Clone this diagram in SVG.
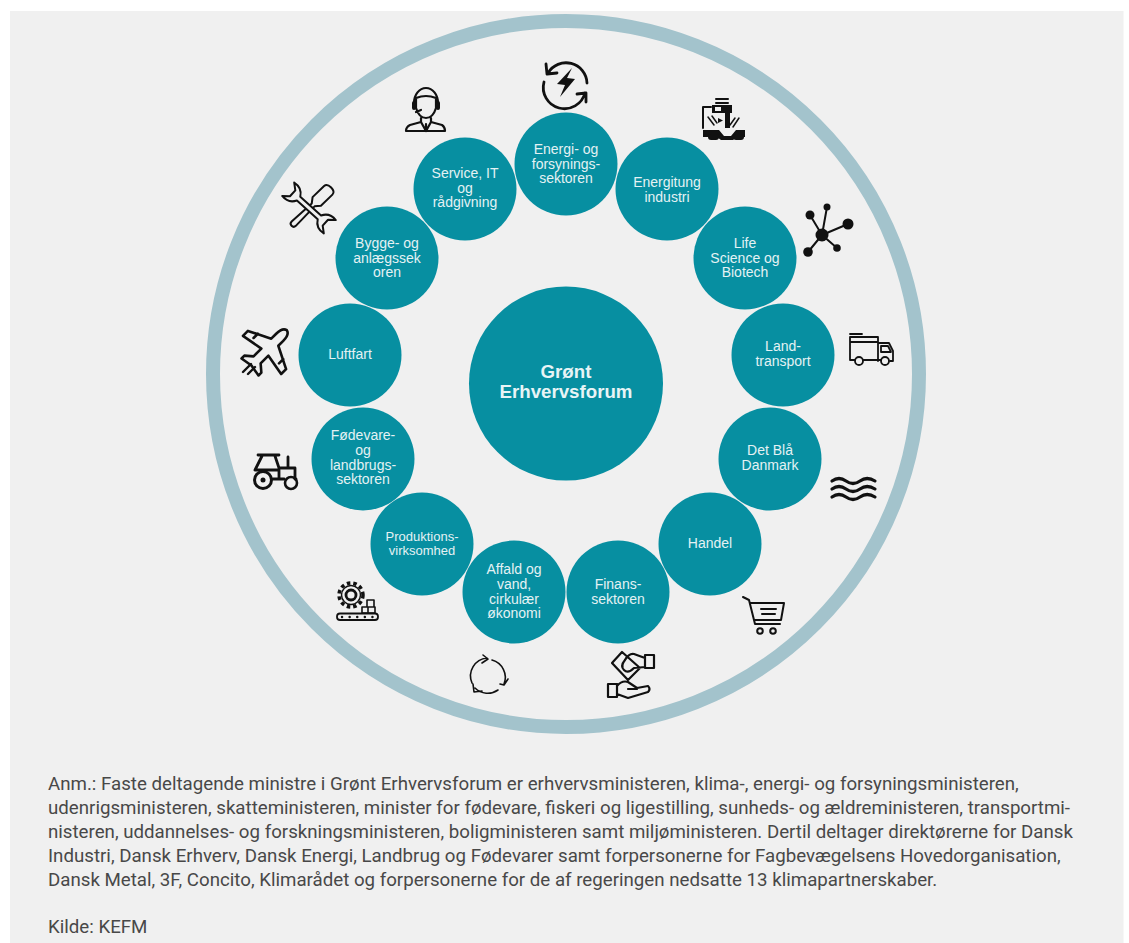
<svg xmlns="http://www.w3.org/2000/svg" width="1129" height="943" viewBox="0 0 1129 943" stroke-width="2">
<style>
.n{fill:#078fa1}
.t{font-family:"Liberation Sans",Arial,sans-serif;font-size:14px;fill:#e4f2f4;text-anchor:middle}
.c{font-family:"Liberation Sans",Arial,sans-serif;font-size:18.700px;font-weight:bold;fill:#e8f4f6;text-anchor:middle}
.f{font-family:Roboto,sans-serif;font-size:18.700px;fill:#484848}
.i{fill:none;stroke:#111;stroke-linecap:round;stroke-linejoin:round}
.w{fill:#f0f0f0;stroke:#111;stroke-linecap:round;stroke-linejoin:round}
.b{fill:#111;stroke:none}
</style>
<rect width="1129" height="943" fill="#fff"/>
<rect x="10" y="11" width="1113.500" height="932" fill="#f0f0f0"/>
<circle id="ring" cx="566" cy="374" r="353" fill="none" stroke="#a3c3cc" stroke-width="14"/>
<g id="connectors"></g>
<g id="center"><circle class="n" cx="566" cy="383.500" r="97"/><text class="c"><tspan x="566" y="378">Grønt</tspan><tspan x="566" y="398">Erhvervsforum</tspan></text></g>

<g id="energi"><circle class="n" cx="566" cy="164" r="51.500"/><text class="t"><tspan x="566" y="154">Energi- og</tspan><tspan x="566" y="169">forsynings-</tspan><tspan x="566" y="183">sektoren</tspan></text>
<path class="i" stroke-width="2.800" d="M548 73A21 21 0 0 1 587 83M544 82A21 21 0 0 0 585 93M546 64L547 74L557 73M577 94L586 93L586 102"/><path class="b" d="M572 68L557 84L565 85L560 97L575 79L567 78Z"/></g>

<g id="energiteknik"><circle class="n" cx="667" cy="189" r="51.500"/><text class="t"><tspan x="667" y="187">Energitung</tspan><tspan x="667" y="202">industri</tspan></text>
<path class="i" d="M703 128V107H711M716 99H728M716 103H728"/><rect class="b" x="712" y="105" width="20" height="8"/><rect x="715" y="107" width="6" height="4" fill="#f0f0f0"/><rect class="b" x="725" y="111" width="5" height="17"/><path class="b" d="M718 118L723 120.500L718 123Z"/><path class="i" stroke-width="1.500" d="M708 117L714 125M712 116L717 123M739 118L733 127M735 118L730 125"/><path class="b" d="M703 130H719L724 136H731L736 130H745V137H737L733 140H721L717 137H703Z"/><rect class="b" x="708" y="134" width="11" height="6" rx="3"/><rect class="b" x="733" y="134" width="11" height="6" rx="3"/></g>

<g id="lifescience"><circle class="n" cx="745" cy="258" r="51.500"/><text class="t"><tspan x="745" y="248">Life</tspan><tspan x="745" y="263">Science og</tspan><tspan x="745" y="277">Biotech</tspan></text>
<path class="i" d="M822 235L827 207M822 235L810 215M822 235L848 224M822 235L837 248M822 235L808 252"/><circle class="b" cx="822" cy="235" r="6.500"/><circle class="b" cx="827" cy="207" r="3.500"/><circle class="b" cx="810" cy="215" r="4.500"/><circle class="b" cx="848" cy="224" r="5.500"/><circle class="b" cx="837" cy="248" r="3.800"/><circle class="b" cx="808" cy="252" r="4.800"/></g>

<g id="landtransport"><circle class="n" cx="783" cy="355" r="51.500"/><text class="t"><tspan x="783" y="351">Land-</tspan><tspan x="783" y="366">transport</tspan></text>
<path class="i" stroke-width="1.800" d="M850 337H878V361M850 337V360H855M863 360H881M878 343H889L893 351V361H890M881 346H888L891 352H881ZM850 342H878M850 334H862"/><circle class="i" stroke-width="1.800" cx="859" cy="361" r="4"/><circle class="i" stroke-width="1.800" cx="885" cy="361" r="4"/></g>

<g id="detblaa"><circle class="n" cx="770" cy="459" r="51.500"/><text class="t"><tspan x="770" y="455">Det Blå</tspan><tspan x="770" y="470">Danmark</tspan></text>
<path class="i" stroke-width="3.200" d="M832 481Q839 476 846 481T860 481T875 481M832 489Q839 484 846 489T860 489T875 489M832 497Q839 492 846 497T860 497T875 497"/></g>

<g id="handel"><circle class="n" cx="710" cy="544" r="51.500"/><text class="t"><tspan x="710" y="548">Handel</tspan></text>
<path class="i" d="M743 597L749 600L755 624H780M751 603L784 603L781 620H755M761 609H776M762 614H775"/><circle class="i" cx="760" cy="631" r="2.800"/><circle class="i" cx="773" cy="631" r="2.800"/></g>

<g id="finans"><circle class="n" cx="618" cy="592" r="51.500"/><text class="t"><tspan x="618" y="589">Finans-</tspan><tspan x="618" y="604">sektoren</tspan></text>
<path class="i" stroke-width="2.200" d="M612 663L622 652L640 668L628 680ZM645 658L634 654Q629 653 625 660Q620 666 624 670Q628 674 634 668L645 667M645 655H654V668H645ZM608 684H617V697H608ZM617 686Q622 680 628 682L637 688L648 686Q651 689 648 692L628 698L617 694M628 689H637"/></g>

<g id="affald"><circle class="n" cx="514" cy="592" r="51.500"/><text class="t"><tspan x="514" y="574">Affald og</tspan><tspan x="514" y="589">vand,</tspan><tspan x="514" y="604">cirkulær</tspan><tspan x="514" y="618">økonomi</tspan></text>
<path class="i" stroke-width="1.600" d="M472 683A18 18 0 0 1 487 658M492 660A18 18 0 0 1 504 684M498 690A18 18 0 0 1 475 688M483 655L488 659L482 663M500 684L504 685L508 679M473 684L474 692L482 691"/></g>

<g id="produktion"><circle class="n" cx="422" cy="544" r="51.500"/><text class="t" style="font-size:13px"><tspan x="422" y="541">Produktions-</tspan><tspan x="422" y="555">virksomhed</tspan></text>
<circle class="i" stroke-width="1.500" cx="351" cy="595" r="9.500"/><circle cx="351" cy="595" r="12" fill="none" stroke="#111" stroke-width="3.500" stroke-dasharray="3.500 3"/><circle class="i" stroke-width="2.800" cx="351" cy="595" r="5"/>
<path class="w" stroke-width="1.600" d="M367 607V600H374V607ZM362 613V607H368V613ZM368 613V607H375V613Z"/><rect class="w" stroke-width="1.800" x="337" y="613.500" width="41" height="6.500" rx="3"/><path class="i" stroke-width="2.400" stroke-dasharray="0.100 7.500" d="M342 617H374"/></g>

<g id="foedevare"><circle class="n" cx="363" cy="459" r="51.500"/><text class="t"><tspan x="363" y="440">Fødevare-</tspan><tspan x="363" y="455">og</tspan><tspan x="363" y="470">landbrugs-</tspan><tspan x="363" y="484">sektoren</tspan></text>
<path class="i" stroke-width="2.800" d="M258 455H279M262 456L255 470M275 456L279 468H295V479H296M255 470H279V479M288 457V468M273 479H284"/><circle class="i" stroke-width="3" cx="263" cy="480" r="8.500"/><circle class="b" cx="263" cy="480" r="2.500"/><circle class="i" stroke-width="2.600" cx="291" cy="483" r="6"/></g>

<g id="luftfart"><circle class="n" cx="350" cy="355" r="51.500"/><text class="t"><tspan x="350" y="359">Luftfart</tspan></text>
<g transform="translate(267 350) rotate(-45)"><path class="i" stroke-width="2.600" d="M28 0Q27 -5 18 -5H11L0 -27H-7L-3 -5H-14L-20 -12H-24L-22 0L-24 12H-20L-14 5H-3L-7 27H0L11 5H18Q27 5 28 0ZM-1 -18H5M-1 18H5"/></g>
<path class="i" stroke-width="2.400" d="M243 372L251 364M248 374L255 367"/></g>

<g id="bygge"><circle class="n" cx="387" cy="258" r="51.500"/><text class="t"><tspan x="387" y="248">Bygge- og</tspan><tspan x="387" y="263">anlægssek</tspan><tspan x="387" y="277">oren</tspan></text>
<g transform="translate(311 207) rotate(-44)"><path class="w" d="M-27 0Q-27 -3 -24 -3L3 -2L8 -6H24Q28 -6 28 0Q28 6 24 6H8L3 2L-24 3Q-27 3 -27 0Z"/></g>
<g transform="translate(309 208) rotate(42)"><path class="w" d="M-14 -2.500H14C17 -8 22 -10 28 -9L22 -4V4L28 9C22 10 17 8 14 2.500H-14C-17 8 -22 10 -28 9L-22 4V-4L-28 -9C-22 -10 -17 -8 -14 -2.500Z"/></g></g>

<g id="service"><circle class="n" cx="465" cy="189" r="51.500"/><text class="t"><tspan x="465" y="178">Service, IT</tspan><tspan x="465" y="193">og</tspan><tspan x="465" y="207">rådgivning</tspan></text>
<path class="i" stroke-width="2.200" d="M414 103A12 15 0 0 1 438 103M416 98Q426 94 436 98V108Q433 118 426 118Q419 118 416 108ZM416 112L421 110M421 118V122L410 125Q406 127 406 131H445Q445 127 442 125L431 122V118M421 122L426 131L431 122M426 124V131"/><rect class="b" x="412" y="101" width="4" height="9" rx="2"/><rect class="b" x="436" y="101" width="4" height="9" rx="2"/></g>

<g id="note"><text class="f"><tspan x="48" y="790">Anm.: Faste deltagende ministre i Grønt Erhvervsforum er erhvervsministeren, klima-, energi- og forsyningsministeren,</tspan><tspan x="48" y="814">udenrigsministeren, skatteministeren, minister for fødevare, fiskeri og ligestilling, sunheds- og ældreministeren, transportmi-</tspan><tspan x="48" y="838">nisteren, uddannelses- og forskningsministeren, boligministeren samt miljøministeren. Dertil deltager direktørerne for Dansk</tspan><tspan x="48" y="862">Industri, Dansk Erhverv, Dansk Energi, Landbrug og Fødevarer samt forpersonerne for Fagbevægelsens Hovedorganisation,</tspan><tspan x="48" y="886">Dansk Metal, 3F, Concito, Klimarådet og forpersonerne for de af regeringen nedsatte 13 klimapartnerskaber.</tspan><tspan x="48" y="933">Kilde: KEFM</tspan></text></g>
</svg>
